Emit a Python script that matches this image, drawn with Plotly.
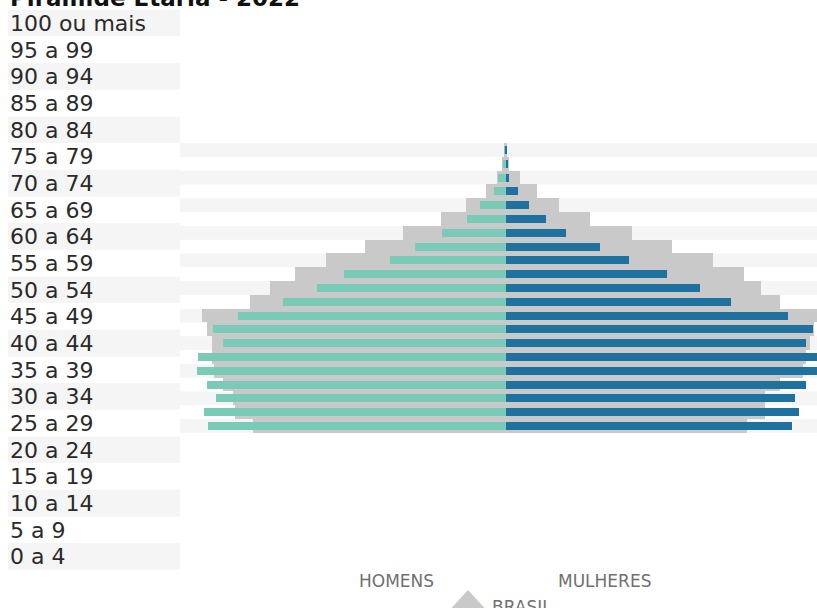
import plotly.graph_objects as go

# ---------------- data ----------------
ages = ["100 ou mais", "95 a 99", "90 a 94", "85 a 89", "80 a 84", "75 a 79",
        "70 a 74", "65 a 69", "60 a 64", "55 a 59", "50 a 54", "45 a 49",
        "40 a 44", "35 a 39", "30 a 34", "25 a 29", "20 a 24", "15 a 19",
        "10 a 14", "5 a 9", "0 a 4"]

homens = [0.01, 0.03, 0.09, 0.15, 0.32, 0.49, 0.81, 1.15, 1.46, 2.04, 2.38,
          2.82, 3.39, 3.70, 3.58, 3.89, 3.90, 3.78, 3.66, 3.82, 3.76]
mulheres = [0.01, 0.03, 0.05, 0.16, 0.30, 0.51, 0.76, 1.19, 1.56, 2.04, 2.46,
            2.85, 3.57, 3.89, 3.81, 4.05, 4.02, 3.80, 3.67, 3.71, 3.63]
brasil_homens = [0.02, 0.04, 0.11, 0.25, 0.50, 0.82, 1.30, 1.78, 2.27, 2.66, 2.98,
                 3.23, 3.84, 3.78, 3.72, 3.72, 3.69, 3.58, 3.45, 3.42, 3.20]
brasil_mulheres = [0.02, 0.05, 0.18, 0.40, 0.68, 1.07, 1.60, 2.11, 2.63, 3.02, 3.23,
                   3.47, 4.05, 3.90, 3.86, 3.80, 3.76, 3.47, 3.28, 3.28, 3.06]

title_text = "Pirâmide Etária - 2022"
legend_homens = "HOMENS"
legend_mulheres = "MULHERES"
legend_brasil = "BRASIL"

# ---------------- styling ----------------
W, H = 817, 608
FONT = "DejaVu Sans"
GRAY = "#c9c9c9"
TEAL = "#79cab6"
BLUE = "#1f72a0"
STRIPE = "#f5f5f5"
TXT = "#2a2a2a"
LEG = "#707070"

def px_x(p):
    return p / W

def px_y(p):
    return 1 - p / H

R = 311.5 / 79.0
x_dom = [194.0 / W, 1.0]
y_dom = [px_y(432.9), px_y(143.1)]

fig = go.Figure()

common = dict(y=ages, orientation="h", hoverinfo="skip", showlegend=False,
              marker_line_width=0)
fig.add_trace(go.Bar(x=[-v for v in brasil_homens], width=1.0,
                     marker_color=GRAY, **common))
fig.add_trace(go.Bar(x=brasil_mulheres, width=1.0,
                     marker_color=GRAY, **common))
fig.add_trace(go.Bar(x=[-v for v in homens], width=0.58,
                     marker_color=TEAL, **common))
fig.add_trace(go.Bar(x=mulheres, width=0.58,
                     marker_color=BLUE, **common))

shapes = []
annotations = []
n = len(ages)
for k, lab in enumerate(ages):
    if k % 2 == 0:
        idx = n - 1 - k
        shapes.append(dict(type="rect", xref="paper", yref="y",
                           x0=px_x(180), x1=1.0, y0=idx - 0.5, y1=idx + 0.5,
                           fillcolor=STRIPE, line_width=0, layer="below"))
        top = 9.7 + 26.67 * k
        shapes.append(dict(type="rect", xref="paper", yref="paper",
                           x0=px_x(8), x1=px_x(180), y0=px_y(top + 26.67),
                           y1=px_y(top), fillcolor=STRIPE, line_width=0,
                           layer="below"))
    annotations.append(dict(text=lab, xref="paper", yref="paper",
                            x=px_x(8), y=px_y(23.5 + 26.67 * k),
                            xanchor="left", yanchor="middle", showarrow=False,
                            font=dict(family=FONT, size=22, color=TXT)))

# title (cut at the top, as in the original screenshot)
annotations.append(dict(text="<b>" + title_text + "</b>", xref="paper", yref="paper",
                        x=px_x(8), y=px_y(-2), xanchor="left", yanchor="middle",
                        showarrow=False,
                        font=dict(family=FONT, size=23, color="#111111")))

# legend
annotations.append(dict(text=legend_homens, xref="paper", yref="paper",
                        x=px_x(396), y=px_y(581), xanchor="center", yanchor="middle",
                        showarrow=False, font=dict(family=FONT, size=17, color=LEG)))
annotations.append(dict(text=legend_mulheres, xref="paper", yref="paper",
                        x=px_x(604), y=px_y(581), xanchor="center", yanchor="middle",
                        showarrow=False, font=dict(family=FONT, size=17, color=LEG)))
annotations.append(dict(text=legend_brasil, xref="paper", yref="paper",
                        x=px_x(490), y=px_y(607), xanchor="left", yanchor="middle",
                        showarrow=False, font=dict(family=FONT, size=17, color=LEG)))
tri = "M {a},{b} L {c},{d} L {e},{f} Z".format(
    a=px_x(446), b=px_y(614), c=px_x(468), d=px_y(590), e=px_x(490), f=px_y(614))
shapes.append(dict(type="path", xref="paper", yref="paper", path=tri,
                   fillcolor=GRAY, line_width=0, layer="above"))

fig.update_layout(
    width=W, height=H, autosize=False,
    margin=dict(l=0, r=0, t=0, b=0, pad=0),
    paper_bgcolor="white", plot_bgcolor="rgba(0,0,0,0)",
    barmode="overlay", bargap=0,
    shapes=shapes, annotations=annotations,
    xaxis=dict(domain=x_dom, range=[-R, R], showgrid=False, zeroline=False,
               showticklabels=False, ticks="", fixedrange=True),
    yaxis=dict(domain=y_dom, type="category", categoryorder="array",
               categoryarray=list(reversed(ages)), range=[-0.5, n - 0.5],
               showgrid=False, zeroline=False, showticklabels=False, ticks="",
               fixedrange=True),
    font=dict(family=FONT),
)

fig.write_html("out.html", config={"displayModeBar": False},
               post_script="document.body.style.margin='0';"
                           "document.body.style.overflow='hidden';")
